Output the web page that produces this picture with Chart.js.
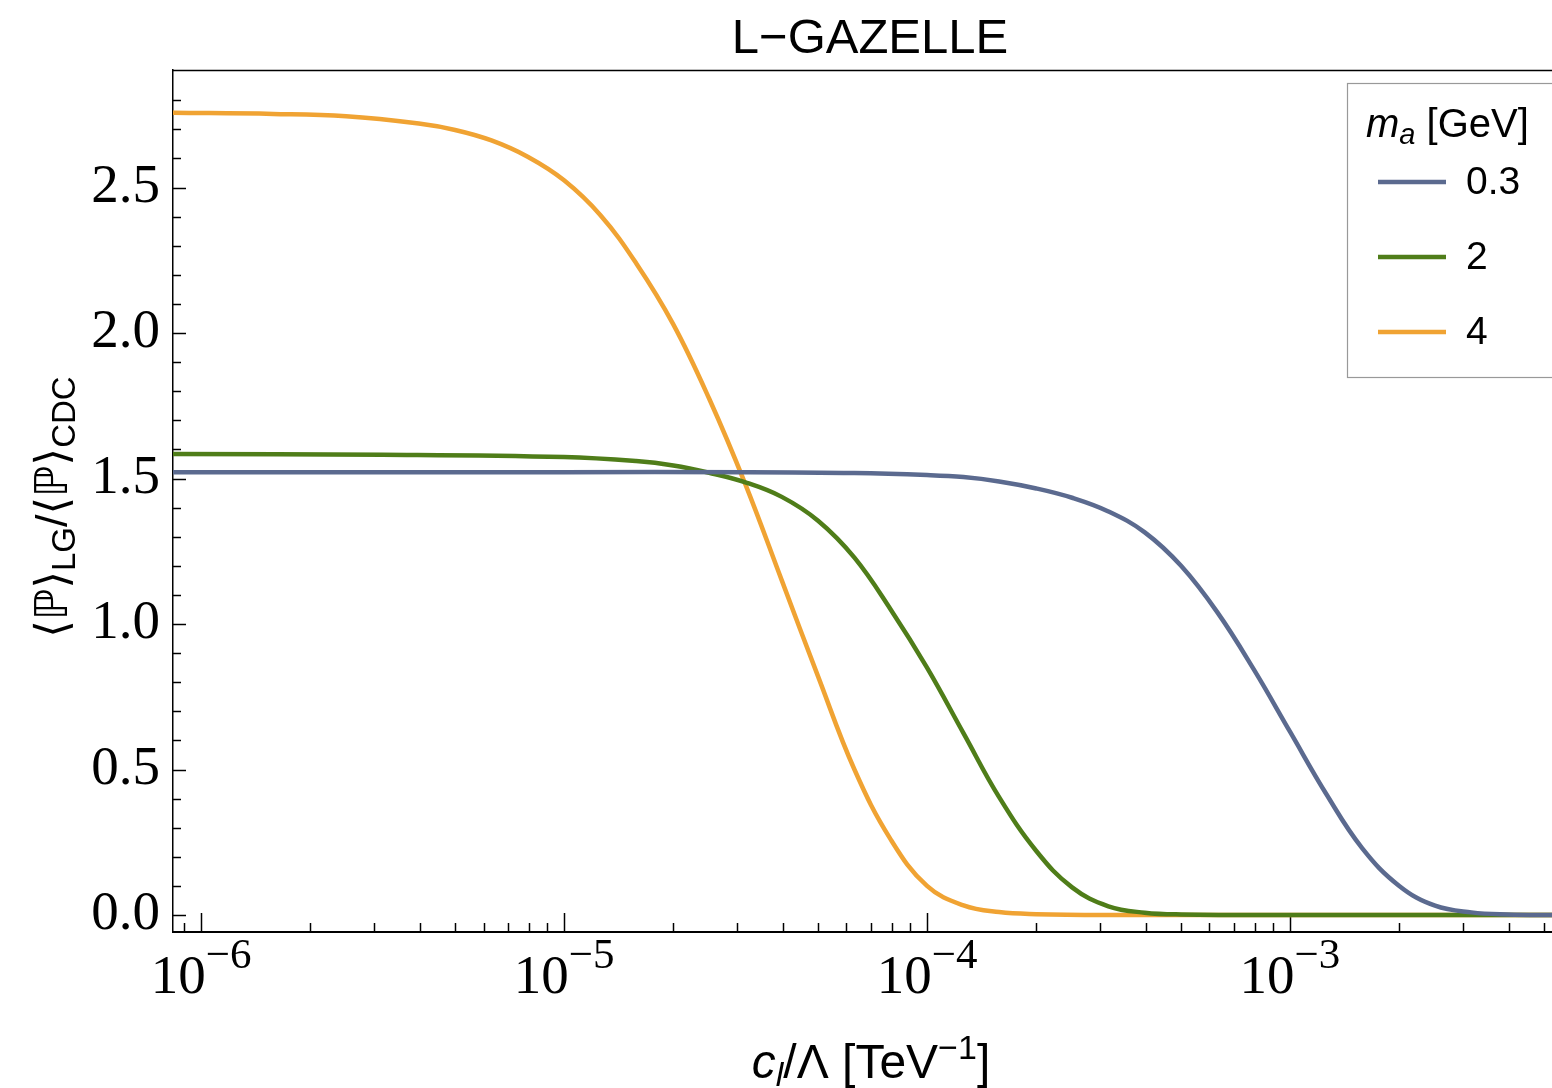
<!DOCTYPE html>
<html>
<head>
<meta charset="utf-8">
<script src="https://cdn.jsdelivr.net/npm/chart.js@4.4.1/dist/chart.umd.min.js"></script>
<style>
  body { margin: 0; background: #fff; }
</style>
</head>
<body>
<canvas id="lgChart" width="1552" height="1088"></canvas>
<script>
// m_a = 0.3 GeV
const x03 = [8.3e-7, 3.16e-6, 1.0e-5, 3.16e-5, 6.31e-5, 1.0e-4, 1.26e-4, 1.58e-4, 2.0e-4, 2.51e-4, 3.16e-4, 3.98e-4, 5.01e-4, 6.31e-4, 7.94e-4, 1.0e-3, 1.26e-3, 1.58e-3, 2.0e-3, 2.51e-3, 3.16e-3, 3.98e-3, 5.4e-3];
const y03 = [1.522, 1.522, 1.522, 1.522, 1.519, 1.512, 1.505, 1.49, 1.466, 1.434, 1.387, 1.315, 1.20, 1.04, 0.845, 0.63, 0.415, 0.23, 0.10, 0.032, 0.009, 0.002, 0];
// m_a = 2 GeV
const x2 = [8.3e-7, 3.16e-6, 1.0e-5, 1.58e-5, 2.0e-5, 2.51e-5, 3.16e-5, 3.98e-5, 5.01e-5, 6.31e-5, 7.94e-5, 1.0e-4, 1.26e-4, 1.58e-4, 2.0e-4, 2.51e-4, 3.16e-4, 3.98e-4, 5.01e-4, 1.0e-3, 5.4e-3];
const y2 = [1.584, 1.582, 1.574, 1.56, 1.545, 1.52, 1.487, 1.437, 1.355, 1.228, 1.05, 0.85, 0.625, 0.405, 0.22, 0.095, 0.03, 0.008, 0.002, 0, 0];
// m_a = 4 GeV
const x4 = [8.3e-7, 1.58e-6, 2.51e-6, 3.98e-6, 5.01e-6, 6.31e-6, 7.94e-6, 1.0e-5, 1.26e-5, 1.58e-5, 2.0e-5, 2.51e-5, 3.16e-5, 3.98e-5, 5.01e-5, 6.31e-5, 7.94e-5, 1.0e-4, 1.26e-4, 1.58e-4, 2.0e-4, 3.16e-4, 1.0e-3, 5.4e-3];
const y4 = [2.757, 2.753, 2.745, 2.72, 2.698, 2.662, 2.606, 2.525, 2.405, 2.24, 2.03, 1.775, 1.48, 1.15, 0.82, 0.50, 0.26, 0.10, 0.033, 0.01, 0.003, 0, 0, 0];

const massLabels = ['0.3', '2', '4'];
const lineColors = ['#5b6a8f', '#4f7d19', '#f0a333'];
const yMajorTicks = [0, 0.5, 1.0, 1.5, 2.0, 2.5];
const xDecades = [-6, -5, -4, -3];

const SERIF = '"Liberation Serif", "DejaVu Serif", serif';
const SANS = '"Liberation Sans", "DejaVu Sans", sans-serif';

const toPoints = (xs, ys) => xs.map((x, i) => ({ x: x, y: ys[i] }));

// draw a row of text pieces (for sub/superscripts)
function drawRuns(ctx, runs, x, y, align) {
  let w = 0;
  runs.forEach(r => { ctx.font = r.font; r.w = ctx.measureText(r.t).width; w += r.w; });
  let cx = align === 'center' ? x - w / 2 : x;
  ctx.textAlign = 'left';
  runs.forEach(r => {
    ctx.font = r.font;
    ctx.fillText(r.t, cx, y + (r.dy || 0));
    cx += r.w;
  });
}

const decorPlugin = {
  id: 'decor',
  beforeDatasetsDraw(chart) {
    const { ctx, chartArea: a, scales: { x, y } } = chart;
    ctx.save();
    ctx.strokeStyle = '#000';
    // top frame line
    ctx.lineWidth = 1.5;
    ctx.beginPath();
    ctx.moveTo(a.left, a.top + 0.5);
    ctx.lineTo(a.right, a.top + 0.5);
    ctx.stroke();
    // inward ticks, y
    y.ticks.forEach(t => {
      const major = yMajorTicks.some(m => Math.abs(m - t.value) < 1e-6);
      const py = Math.round(y.getPixelForValue(t.value)) + 0.5;
      ctx.beginPath();
      ctx.moveTo(a.left, py);
      ctx.lineTo(a.left + (major ? 13 : 8), py);
      ctx.stroke();
    });
    // inward ticks, x
    x.ticks.forEach(t => {
      const lg = Math.log10(t.value);
      const major = Math.abs(lg - Math.round(lg)) < 1e-6;
      const px = Math.round(x.getPixelForValue(t.value)) + 0.5;
      ctx.beginPath();
      ctx.moveTo(px, a.bottom);
      ctx.lineTo(px, a.bottom - (major ? 19 : 9));
      ctx.stroke();
    });
    ctx.restore();
  },
  afterDraw(chart) {
    const { ctx, scales: { x } } = chart;
    ctx.save();
    ctx.fillStyle = '#000';
    ctx.textBaseline = 'alphabetic';

    // x tick labels 10^n
    xDecades.forEach(n => {
      const px = x.getPixelForValue(Math.pow(10, n));
      drawRuns(ctx, [
        { t: '10', font: '55px ' + SERIF },
        { t: '\u2212' + (-n), font: '43px ' + SERIF, dy: -25 }
      ], px, 993, 'center');
    });

    // title
    drawRuns(ctx, [{ t: 'L\u2212GAZELLE', font: '49px ' + SANS }], 870, 53, 'center');

    // x axis title
    drawRuns(ctx, [
      { t: 'c', font: 'italic 48px ' + SANS },
      { t: 'l', font: 'italic 34px ' + SANS, dy: 8 },
      { t: '/\u039B [TeV', font: '48px ' + SANS },
      { t: '\u22121', font: '34px ' + SANS, dy: -19 },
      { t: ']', font: '48px ' + SANS }
    ], 871, 1078, 'center');

    // y axis title (rotated)
    ctx.save();
    ctx.translate(67, 507);
    ctx.rotate(-Math.PI / 2);
    drawRuns(ctx, [
      { t: '\u27E8\u2119\u27E9', font: '45px ' + SANS },
      { t: 'LG', font: '33px ' + SANS, dy: 8 },
      { t: '/\u27E8\u2119\u27E9', font: '45px ' + SANS },
      { t: 'CDC', font: '33px ' + SANS, dy: 8 }
    ], 0, 0, 'center');
    ctx.restore();

    // legend
    ctx.fillStyle = '#fff';
    ctx.fillRect(1347.5, 83.5, 230, 294);
    ctx.strokeStyle = '#999';
    ctx.lineWidth = 1.2;
    ctx.strokeRect(1347.5, 83.5, 230, 294);
    ctx.fillStyle = '#000';
    drawRuns(ctx, [
      { t: 'm', font: 'italic 40px ' + SANS },
      { t: 'a', font: 'italic 29px ' + SANS, dy: 7 },
      { t: ' [GeV]', font: '40px ' + SANS }
    ], 1366, 137, 'left');
    chart.data.datasets.forEach((ds, i) => {
      const ly = 182 + i * 75;
      ctx.strokeStyle = ds.borderColor;
      ctx.lineWidth = 4.5;
      ctx.beginPath();
      ctx.moveTo(1378, ly);
      ctx.lineTo(1446, ly);
      ctx.stroke();
      ctx.fillStyle = '#000';
      ctx.font = '39px ' + SANS;
      ctx.textBaseline = 'middle';
      ctx.fillText(ds.label, 1466, ly + 1);
      ctx.textBaseline = 'alphabetic';
    });
    ctx.restore();
  }
};

const datasets = [
  { label: massLabels[0], data: toPoints(x03, y03), borderColor: lineColors[0] },
  { label: massLabels[1], data: toPoints(x2, y2), borderColor: lineColors[1] },
  { label: massLabels[2], data: toPoints(x4, y4), borderColor: lineColors[2] }
].map(d => Object.assign(d, {
  borderWidth: 4.5,
  pointRadius: 0,
  fill: false,
  tension: 0.4
}));

new Chart(document.getElementById('lgChart').getContext('2d'), {
  type: 'line',
  data: { datasets: datasets },
  options: {
    responsive: false,
    animation: false,
    layout: { padding: { top: 70, right: 0, left: 0, bottom: 0 } },
    plugins: {
      legend: { display: false },
      title: { display: false },
      tooltip: { enabled: false }
    },
    scales: {
      x: {
        type: 'logarithmic',
        min: 8.37e-7,
        max: 5.27e-3,
        grid: { display: false, drawTicks: false },
        border: { display: true, color: '#000', width: 2 },
        ticks: { display: false },
        afterBuildTicks(scale) {
          const ticks = [];
          for (let n = -7; n <= -3; n++) {
            for (let k = 1; k <= 9; k++) {
              const v = k * Math.pow(10, n);
              if (v >= scale.min && v <= scale.max) ticks.push({ value: v });
            }
          }
          scale.ticks = ticks;
        },
        afterFit(scale) { scale.height = 156; }
      },
      y: {
        type: 'linear',
        min: -0.0584,
        max: 2.904,
        grid: { display: false, drawTicks: false },
        border: { display: true, color: '#000', width: 1.5 },
        ticks: {
          autoSkip: false,
          padding: 13,
          color: '#000',
          font: { family: SERIF, size: 55 },
          callback(v) {
            return yMajorTicks.some(m => Math.abs(m - v) < 1e-6) ? v.toFixed(1) : '';
          }
        },
        afterBuildTicks(scale) {
          const ticks = [];
          for (let i = 0; i <= 28; i++) ticks.push({ value: i / 10 });
          scale.ticks = ticks;
        },
        afterFit(scale) { scale.width = 173; }
      }
    }
  },
  plugins: [decorPlugin]
});
</script>
</body>
</html>
